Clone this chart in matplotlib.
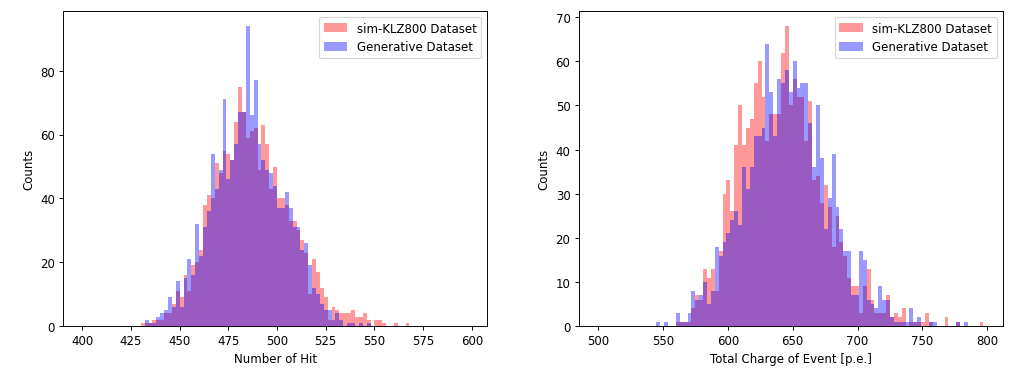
import matplotlib
matplotlib.use("Agg")
import matplotlib.pyplot as plt
import numpy as np

# bin edges (np.arange excludes the end point, so 99 bins each)
hit_edges = np.arange(400, 600, 2)
charge_edges = np.arange(500, 800, 3)

# counts per bin
hit_sim = [
    0, 0, 0, 0, 0, 0, 0, 0, 0, 0,
    0, 0, 0, 0, 0, 1, 1, 1, 2, 2,
    2, 4, 4, 7, 11, 9, 16, 11, 19, 20,
    24, 38, 41, 40, 51, 48, 55, 54, 52, 64,
    75, 67, 59, 61, 62, 49, 63, 57, 43, 50,
    40, 40, 38, 33, 33, 30, 27, 23, 10, 21,
    17, 12, 9, 2, 6, 5, 4, 4, 4, 5,
    3, 3, 4, 2, 0, 2, 2, 1, 0, 0,
    1, 0, 0, 1, 0, 0, 0, 0, 0, 0,
    0, 0, 0, 0, 0, 0, 0, 0, 0,
]
hit_gen = [
    0, 0, 0, 0, 0, 0, 0, 0, 0, 0,
    0, 0, 0, 0, 0, 0, 2, 1, 1, 3,
    4, 5, 9, 6, 14, 6, 15, 21, 16, 32,
    22, 31, 36, 54, 43, 49, 71, 46, 52, 57,
    67, 67, 94, 66, 77, 57, 52, 49, 48, 44,
    37, 37, 42, 37, 31, 31, 24, 26, 19, 12,
    10, 7, 5, 5, 2, 4, 2, 0, 1, 1,
    0, 1, 0, 1, 0, 0, 0, 0, 0, 0,
    0, 0, 0, 0, 0, 0, 0, 0, 0, 0,
    0, 0, 0, 0, 0, 0, 0, 0, 0,
]
charge_sim = [
    0, 0, 0, 0, 0, 0, 0, 0, 0, 0,
    0, 0, 0, 0, 0, 0, 0, 0, 0, 0,
    1, 1, 1, 1, 4, 7, 6, 13, 11, 13,
    8, 17, 30, 33, 26, 41, 50, 41, 45, 47,
    55, 60, 52, 42, 48, 48, 48, 62, 68, 50,
    56, 52, 52, 42, 51, 33, 34, 28, 32, 27,
    18, 25, 19, 16, 11, 9, 9, 3, 9, 13,
    6, 3, 3, 3, 7, 2, 3, 2, 4, 0,
    1, 1, 1, 1, 3, 1, 0, 0, 0, 2,
    0, 0, 1, 0, 0, 0, 0, 0, 1,
]
charge_gen = [
    0, 0, 0, 0, 0, 0, 0, 0, 0, 0,
    0, 0, 0, 0, 0, 1, 0, 1, 0, 0,
    3, 1, 1, 3, 8, 6, 7, 10, 5, 8,
    18, 16, 19, 21, 24, 26, 23, 36, 31, 36,
    43, 43, 45, 64, 53, 43, 56, 55, 58, 53,
    60, 54, 55, 55, 46, 36, 50, 38, 22, 29,
    39, 27, 22, 17, 17, 7, 7, 17, 15, 6,
    5, 4, 9, 6, 6, 2, 1, 1, 1, 1,
    4, 1, 2, 0, 0, 1, 1, 0, 0, 0,
    0, 0, 1, 0, 1, 0, 0, 0, 0,
]

labels = ["sim-KLZ800 Dataset", "Generative Dataset"]

# the original looks like a 12 in wide figure shrunk down, so render it that way
fig = plt.figure(figsize=(12, 4.4), dpi=84.75)
ax1 = fig.add_axes([0.062, 0.123, 0.417, 0.845])
ax2 = fig.add_axes([0.569, 0.123, 0.417, 0.845])

panels = [
    (ax1, hit_edges, hit_sim, hit_gen, "Number of Hit"),
    (ax2, charge_edges, charge_sim, charge_gen, "Total Charge of Event [p.e.]"),
]

for ax, edges, sim, gen, xlabel in panels:
    ax.hist(edges[:-1], bins=edges, weights=sim, color="red", alpha=0.4, label=labels[0])
    ax.hist(edges[:-1], bins=edges, weights=gen, color="blue", alpha=0.4, label=labels[1])
    ax.set_xlabel(xlabel)
    ax.set_ylabel("Counts")
    ax.legend(loc="upper right")

fig.savefig("out.png", dpi=84.75)
